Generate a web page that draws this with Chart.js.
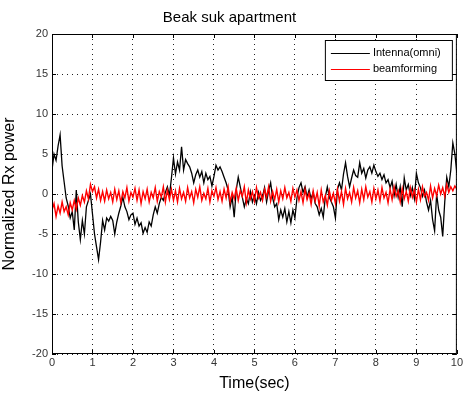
<!DOCTYPE html>
<html>
<head>
<meta charset="utf-8">
<script src="https://cdn.jsdelivr.net/npm/chart.js@4/dist/chart.umd.min.js"></script>
<style>
  html, body { margin: 0; padding: 0; background: #fff; }
  #chart-container { width: 465px; height: 393px; }
</style>
</head>
<body>
<div id="chart-container"><canvas id="myChart"></canvas></div>
<script>
var timeStep = 0.05;

// Intenna(omni), one value every 0.05 s from 0 to 10
var omniValues = [
    3.0, 5.0, 4.2, 6.0, 7.4, 3.5, 1.5, -0.5, -1.5, -3.0,
    -2.2, -4.5, 0.5, -3.5, -5.7, -3.3, -5.0, -1.6, -0.8, 0.0,
    -2.5, -5.0, -6.6, -8.2, -6.0, -3.3, -4.5, -3.0, -3.4, -2.8,
    -3.3, -5.0, -3.5, -2.4, -1.5, -0.4, -1.6, -2.2, -3.2, -2.6,
    -2.4, -3.8, -3.0, -4.0, -3.6, -4.9, -4.2, -4.8, -3.5, -4.0,
    -2.6, -1.6, -2.4, -1.2, -0.4, -0.8, 0.2, 0.9, -0.2, 2.0,
    4.5, 2.5, 4.0, 3.0, 5.9, 3.0, 4.3, 3.8, 3.4, 2.6,
    1.4, 2.4, 3.0, 2.1, 2.8, 1.4, 2.6, 1.8, 2.2, 1.0,
    2.2, 3.6, 3.0, 3.4, 2.8, 2.1, 1.4, 0.5, -1.6, -0.4,
    -2.9, 0.5, 2.1, 0.9, -0.4, -1.6, -0.6, -1.2, 0.3, -1.0,
    -0.2, -1.2, 0.2, -0.8, -0.3, 0.8, -1.0, 0.4, 1.4, -0.5,
    -1.6, -1.2, -3.2, -2.0, -2.9, -1.8, -3.5, -2.2, -3.6, -2.0,
    -3.0, -0.5, 0.8, 1.4, 0.2, 0.9, -0.4, 0.5, -0.6, 0.2,
    -1.2, -1.6, -2.6, -1.8, -2.9, -0.4, 0.9, -0.4, -1.0, -1.6,
    -3.0, 0.6, 1.4, 0.5, 2.5, 3.9, 2.2, 0.9, 2.0, 3.0,
    2.3, 2.1, 3.9, 2.6, 3.2, 2.0, 3.0, 3.4, 2.6, 3.6,
    2.8, 2.2, 2.6, 1.8, 2.4, 1.4, 1.8, 0.8, 1.6, -0.2,
    1.2, -0.4, 0.9, -1.6, 2.0, 0.5, 1.2, -0.2, 0.8, -0.6,
    2.6, 1.4, 0.8, -0.3, 0.5, -1.0, -2.0, -0.8, -3.2, -4.6,
    0.0, -2.0, -2.9, -5.3, -1.0, 2.1, 0.9, 3.0, 6.4, 5.0,
    2.6
];

// beamforming, same time steps
var beamValues = [
    -2.0, -1.2, -2.8, -1.5, -2.4, -1.0, -2.2, -1.6, -2.6, -1.1, -2.0,
    -0.8, -1.9, -0.5, -1.4, -0.2, -1.0, 0.4, -0.6, 1.2, 0.3,
    0.9, -0.5, 0.6, -0.8, 0.3, -0.9, 0.5, -0.6, 0.2, -1.0,
    0.6, -0.7, 0.4, -1.1, 0.3, -0.5, 0.8, -0.9, 0.2, -0.4,
    0.7, -0.8, 0.5, -1.2, 0.3, -0.6, 0.6, -1.0, 0.2, -0.5,
    0.8, -0.9, 0.3, -0.4, 0.9, -1.0, 0.5, -0.7, 0.6, -0.8,
    0.4, -1.0, 0.7, -0.6, 0.2, -0.9, 0.8, -0.5, 0.3, -1.1,
    0.6, -0.4, 0.9, -0.8, 0.1, -0.6, 0.7, -1.0, 0.4, -0.3,
    0.8, -0.7, 0.3, -0.9, 0.6, -0.5, 0.9, -1.0, 0.2, -0.6,
    0.7, -0.8, 0.4, -0.3, 0.9, -1.1, 0.5, -0.6, 0.3, -0.9,
    0.8, -0.5, 0.2, -0.8, 0.6, -0.4, 0.9, -0.9, 0.3, -0.7,
    0.6, -1.0, 0.4, -0.6, 0.8, -0.5, 0.2, -0.9, 0.7, -0.4,
    0.5, -0.8, 0.3, -1.1, 0.6, -0.7, 0.1, -1.3, 0.4, -0.9,
    0.2, -1.5, 0.5, -1.0, -0.2, -1.4, 0.4, -0.8, 0.1, -1.2,
    0.6, -0.9, 0.3, -1.3, 0.7, -0.6, 0.2, -1.0, 0.8, -0.5,
    0.4, -1.1, 0.6, -0.7, 0.9, -0.4, 0.3, -1.0, 0.7, -0.6,
    0.5, -0.9, 0.8, -0.5, 0.2, -1.1, 0.6, -0.7, 0.9, -0.3,
    0.4, -1.0, 0.7, -0.6, 0.3, -0.9, 0.8, -0.4, 0.5, -1.0,
    0.6, -0.7, 0.9, -0.3, 0.2, -0.8, 1.0, -0.5, 0.7, -0.2,
    1.1, 0.0, 0.8, -0.3, 1.2, 0.2, 0.9, 0.4, 1.0, 0.6
];

var seriesNames = ["Intenna(omni)", "beamforming"];
var seriesColors = ["#000000", "#ff0000"];

function toPoints(values) {
    var pts = [];
    for (var i = 0; i < values.length; i++) {
        pts.push({ x: Math.round(i * timeStep * 100) / 100, y: values[i] });
    }
    return pts;
}

var fontFamily = "'Liberation Sans', Arial, sans-serif";

// box around the plot + inner tick marks + legend inside the axes (matlab look)
var matlabBox = {
    id: 'matlabBox',
    afterDraw: function (chart) {
        var ctx = chart.ctx;
        var a = chart.chartArea;
        var xs = chart.scales.x;
        var ys = chart.scales.y;
        ctx.save();
        ctx.strokeStyle = '#000';
        ctx.lineWidth = 1;
        ctx.setLineDash([]);
        ctx.strokeRect(a.left + 0.5, a.top + 0.5, a.right - a.left - 1, a.bottom - a.top - 1);

        ctx.beginPath();
        xs.ticks.forEach(function (t) {
            var px = Math.round(xs.getPixelForValue(t.value)) + 0.5;
            ctx.moveTo(px, a.bottom); ctx.lineTo(px, a.bottom - 4);
            ctx.moveTo(px, a.top); ctx.lineTo(px, a.top + 4);
        });
        ys.ticks.forEach(function (t) {
            var py = Math.round(ys.getPixelForValue(t.value)) + 0.5;
            ctx.moveTo(a.left, py); ctx.lineTo(a.left + 4, py);
            ctx.moveTo(a.right, py); ctx.lineTo(a.right - 4, py);
        });
        ctx.stroke();

        // legend
        var boxW = 127, boxH = 40;
        var bx = a.right - 5 - boxW, by = a.top + 6;
        ctx.fillStyle = '#fff';
        ctx.fillRect(bx, by, boxW, boxH);
        ctx.strokeStyle = '#000';
        ctx.strokeRect(bx + 0.5, by + 0.5, boxW, boxH);
        ctx.font = '11px ' + fontFamily;
        ctx.textBaseline = 'middle';
        chart.data.datasets.forEach(function (ds, i) {
            var ly = by + 13 + i * 16;
            ctx.strokeStyle = ds.borderColor;
            ctx.beginPath();
            ctx.moveTo(bx + 6, ly + 0.5);
            ctx.lineTo(bx + 45, ly + 0.5);
            ctx.stroke();
            ctx.fillStyle = '#000';
            ctx.fillText(ds.label, bx + 48, ly);
        });
        ctx.restore();
    }
};

var ctx = document.getElementById('myChart');
var myChart = new Chart(ctx, {
    type: 'line',
    data: {
        datasets: [{
            label: seriesNames[0],
            data: toPoints(omniValues),
            borderColor: seriesColors[0],
            borderWidth: 1.3,
            pointRadius: 0,
            tension: 0,
            order: 2
        }, {
            label: seriesNames[1],
            data: toPoints(beamValues),
            borderColor: seriesColors[1],
            borderWidth: 1.4,
            pointRadius: 0,
            tension: 0,
            order: 1
        }]
    },
    options: {
        responsive: true,
        maintainAspectRatio: false,
        animation: false,
        layout: { padding: { left: 0, right: 6, top: 0, bottom: 0 } },
        plugins: {
            legend: { display: false },
            tooltip: { enabled: false },
            title: {
                display: true,
                text: 'Beak suk apartment',
                color: '#000',
                font: { family: fontFamily, size: 15, weight: 'normal' },
                padding: { top: 9, bottom: 7 }
            }
        },
        scales: {
            x: {
                type: 'linear',
                min: 0,
                max: 10,
                ticks: {
                    stepSize: 1,
                    color: '#333',
                    padding: 2,
                    maxRotation: 0,
                    font: { family: fontFamily, size: 11 }
                },
                grid: { color: '#222', lineWidth: 1, drawTicks: false },
                border: { display: false, dash: [1, 4] },
                title: {
                    display: true,
                    text: 'Time(sec)',
                    color: '#000',
                    font: { family: fontFamily, size: 16 },
                    padding: { top: 0, bottom: 0 }
                },
                afterFit: function (scale) { scale.height = 39; }
            },
            y: {
                min: -20,
                max: 20,
                ticks: {
                    stepSize: 5,
                    color: '#333',
                    padding: 4,
                    font: { family: fontFamily, size: 11 }
                },
                grid: { color: '#222', lineWidth: 1, drawTicks: false },
                border: { display: false, dash: [1, 4] },
                title: {
                    display: true,
                    text: 'Normalized Rx power',
                    color: '#000',
                    font: { family: fontFamily, size: 16 },
                    padding: { top: 0, bottom: 2 }
                },
                afterFit: function (scale) { scale.width = 52; }
            }
        }
    },
    plugins: [matlabBox]
});
</script>
</body>
</html>
